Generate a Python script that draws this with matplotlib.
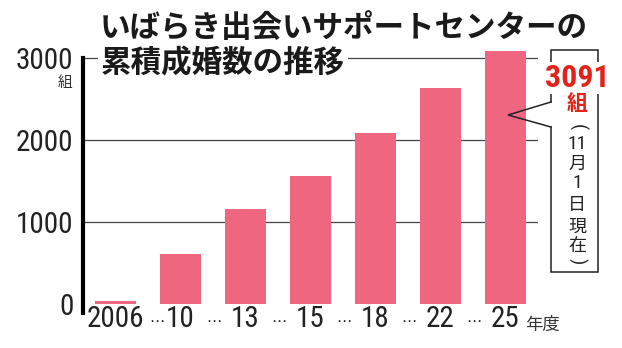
import matplotlib
matplotlib.use("Agg")
import matplotlib.pyplot as plt
from matplotlib import font_manager

# data
years = ["2006", "10", "13", "15", "18", "22", "25"]
counts = [40, 617, 1162, 1565, 2089, 2638, 3091]
yticks = [0, 1000, 2000, 3000]
title_lines = ["いばらき出会いサポートセンターの", "累積成婚数の推移"]
note_chars = ["11", "月", "1", "日", "現", "在"]

names = {f.name for f in font_manager.fontManager.ttflist}
if "Roboto Condensed" in names:
    num_font, num_size = "Roboto Condensed", 21
else:
    num_font, num_size = "Roboto", 19
JP = "Noto Sans CJK JP"
NUM = [num_font, JP]

bar_color = "#EF6680"
red = "#E2231A"
ink = "#222222"

W, H = 622, 348
fig = plt.figure(figsize=(W / 100, H / 100), dpi=100)

# main axes placed in pixel terms
x_left, x_right = 83, 538
y_zero, px_per = 304.3, 0.082
ymax = 3300
ax = fig.add_axes([x_left / W, (H - y_zero) / H, (x_right - x_left) / W, ymax * px_per / H])
ax.set_xlim(-0.497, 6.503)
ax.set_ylim(0, ymax)

for v in yticks[1:]:
    ax.axhline(v, color="#444444", lw=0.9, zorder=1)

x = range(len(counts))
ax.bar(x, counts, width=0.626, color=bar_color, zorder=2, clip_on=False)

for s in ["top", "right", "bottom"]:
    ax.spines[s].set_visible(False)
ax.spines["left"].set_linewidth(3.0)
ax.spines["left"].set_bounds(-105, 3000)
ax.spines["left"].set_zorder(3)

ax.set_yticks(yticks)
ax.set_yticklabels([str(v) for v in yticks], family=NUM, fontsize=num_size, color=ink)
ax.tick_params(axis="y", length=0, pad=7)
ax.set_xticks(list(x))
ax.set_xticklabels(years, family=NUM, fontsize=num_size, color=ink)
ax.tick_params(axis="x", length=0, pad=0.5)

# dots between year labels
dot_pos = [0.64] + [i + 0.52 for i in range(1, len(years) - 1)]
for p in dot_pos:
    ax.text(p, -205, "⋯", family="DejaVu Sans", fontsize=11, ha="center", va="center",
            color=ink, clip_on=False)

# overlay in pixel coordinates for annotations
ov = fig.add_axes([0, 0, 1, 1], zorder=5)
ov.set_xlim(0, W)
ov.set_ylim(H, 0)
ov.axis("off")
ov.patch.set_alpha(0)

ov.text(100, 28, title_lines[0], family=JP, fontsize=22, fontweight="bold",
        ha="left", va="center", color="#1a1a1a")
ov.text(101, 63, title_lines[1], family=JP, fontsize=22, fontweight="bold",
        ha="left", va="center", color="#1a1a1a",
        bbox=dict(fc="white", ec="none", pad=2))

ov.text(65, 83, "組", family=JP, fontsize=10.5, ha="center", va="center", color="#333333")
ov.text(543, 325, "年度", family=JP, fontsize=12.5, ha="center", va="center", color="#333333")

# callout box
lc = "#222222"
lw = 1.1
ov.plot([551, 551, 598, 598, 551, 551], [102, 50, 50, 272, 272, 127], color=lc, lw=lw,
        solid_joinstyle="miter")
ov.plot([551, 508, 551], [102, 115, 127], color=lc, lw=lw, solid_joinstyle="miter")

ov.text(577, 78, str(counts[-1]), family=NUM, fontsize=num_size + 2, fontweight="bold",
        color=red, ha="center", va="center",
        bbox=dict(fc="white", ec="none", pad=0.5))
ov.text(577, 104, "組", family=JP, fontsize=15, fontweight="bold", color=red,
        ha="center", va="center", bbox=dict(fc="white", ec="none", pad=0.5))

ov.text(577, 127, "(", family=NUM, fontsize=14, rotation=270, ha="center", va="center",
        color=ink)
note_y = [144, 164, 183, 205, 227, 246]
for ch, yy in zip(note_chars, note_y):
    digit = ch.isdigit()
    ov.text(577, yy, ch, family=NUM if digit else JP,
            fontsize=14 if digit else 13, ha="center", va="center", color=ink)
ov.text(577, 261, ")", family=NUM, fontsize=14, rotation=270, ha="center", va="center",
        color=ink)

fig.savefig("out.png", dpi=100)
